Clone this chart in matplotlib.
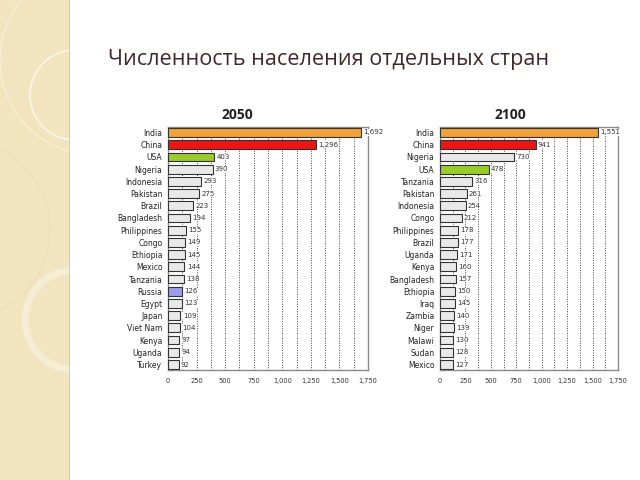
import matplotlib
matplotlib.use("Agg")
import matplotlib.pyplot as plt
from matplotlib.patches import Circle, Rectangle

title = "Численность населения отдельных стран"

countries_2050 = ["India", "China", "USA", "Nigeria", "Indonesia", "Pakistan", "Brazil",
                  "Bangladesh", "Philippines", "Congo", "Ethiopia", "Mexico", "Tanzania",
                  "Russia", "Egypt", "Japan", "Viet Nam", "Kenya", "Uganda", "Turkey"]
values_2050 = [1692, 1296, 403, 390, 293, 275, 223, 194, 155, 149, 145, 144, 138,
               126, 123, 109, 104, 97, 94, 92]

countries_2100 = ["India", "China", "Nigeria", "USA", "Tanzania", "Pakistan", "Indonesia",
                  "Congo", "Philippines", "Brazil", "Uganda", "Kenya", "Bangladesh",
                  "Ethiopia", "Iraq", "Zambia", "Niger", "Malawi", "Sudan", "Mexico"]
values_2100 = [1551, 941, 730, 478, 316, 261, 254, 212, 178, 177, 171, 160, 157,
               150, 145, 140, 139, 130, 128, 127]

ticks = [0, 250, 500, 750, 1000, 1250, 1500, 1750]
tick_labels = ["0", "250", "500", "750", "1,000", "1,250", "1,500", "1,750"]

special = {"India": "#F2A03A", "China": "#EE1515", "USA": "#9ACD2A", "Russia": "#9C9CF0"}
default_color = "#E9E9E9"

fig = plt.figure(figsize=(6.4, 4.8), dpi=100)
fig.patch.set_facecolor("white")

# decorative left strip
deco = fig.add_axes([0, 0, 70 / 640, 1])
deco.set_xlim(0, 70)
deco.set_ylim(480, 0)
deco.axis("off")
deco.add_patch(Rectangle((0, 0), 70, 480, facecolor="#F2E4BF", edgecolor="none"))
for (cx, cy, r, lw, col) in [(95, 60, 95, 1.0, "#F8EFD6"), (75, 95, 45, 1.2, "#FBF6E6"),
                             (75, 320, 50, 5, "#F6EDD5"), (-40, 230, 90, 0.8, "#EBDDB4")]:
    c = Circle((cx, cy), r, facecolor="none", edgecolor=col, linewidth=lw)
    c.set_clip_path(deco.patches[0])
    deco.add_patch(c)
deco.plot([69.5, 69.5], [0, 480], color="#D9C690", linewidth=1.2)

fig.text(108 / 640, 1 - 60 / 480, title, fontsize=15.6, color="#43282A",
         family="Open Sans", ha="left", va="center")


def draw(rect, names, vals, year, year_x):
    ax = fig.add_axes(rect)
    n = len(names)
    ys = list(range(n))
    colors = [special.get(c, default_color) for c in names]
    ax.barh(ys, vals, height=0.72, color=colors, edgecolor="#333333", linewidth=0.8, zorder=3)
    for y, v in zip(ys, vals):
        ax.text(v + 20, y, f"{v:,}", fontsize=5, color="#333333", va="center", ha="left",
                zorder=4, bbox=dict(facecolor="white", edgecolor="none", pad=0.3))
    ax.set_xlim(0, 1750)
    ax.set_ylim(n - 0.55, -0.45)
    ax.set_yticks(ys)
    ax.set_yticklabels(names, fontsize=5.5, color="#222222")
    ax.set_xticks(ticks)
    ax.set_xticklabels(tick_labels, fontsize=4.8, color="#333333")
    for gx in range(125, 1750, 125):
        ax.axvline(gx, color="#444444", linestyle=(0, (1, 1.5)), linewidth=0.7, zorder=1)
    ax.tick_params(axis="y", length=0, pad=4)
    ax.tick_params(axis="x", length=0, pad=6)
    for s in ax.spines.values():
        s.set_color("#8A8A8A")
        s.set_linewidth(1.0)
    fig.text(year_x / 640, 1 - 115 / 480, year, fontsize=10, fontweight="bold",
             color="#222222", ha="center", va="center", family="Open Sans")
    return ax


draw([168 / 640, 1 - 370 / 480, 200 / 640, 243 / 480], countries_2050, values_2050, "2050", 237)
draw([440 / 640, 1 - 370 / 480, 178 / 640, 243 / 480], countries_2100, values_2100, "2100", 510)

fig.savefig("out.png", dpi=100)
